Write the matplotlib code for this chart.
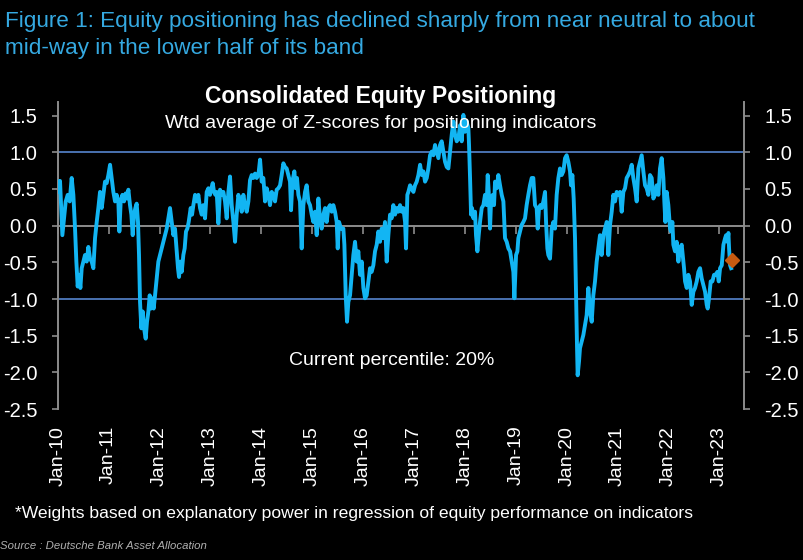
import numpy as np
import matplotlib
matplotlib.use("Agg")
import matplotlib.pyplot as plt
from matplotlib import font_manager

# ---------------- data ----------------
years_since_2010 = [
    0.000, 0.026, 0.045, 0.065, 0.091, 0.124, 0.157, 0.196, 0.235, 0.274,
    0.307, 0.340, 0.366, 0.392, 0.418, 0.445, 0.471, 0.504, 0.536, 0.569,
    0.602, 0.635, 0.667, 0.700, 0.733, 0.766, 0.798, 0.831, 0.864, 0.897,
    0.929, 0.962, 0.995, 1.028, 1.060, 1.093, 1.126, 1.159, 1.191, 1.211,
    1.237, 1.270, 1.302, 1.335, 1.361, 1.388, 1.420, 1.447, 1.473, 1.499,
    1.525, 1.551, 1.577, 1.597, 1.617, 1.643, 1.669, 1.696, 1.728, 1.754,
    1.781, 1.807, 1.833, 1.859, 1.885, 1.912, 1.944, 1.977, 2.010, 2.042,
    2.075, 2.108, 2.141, 2.173, 2.206,
    2.239, 2.272, 2.304, 2.337, 2.363, 2.383, 2.409, 2.436, 2.468, 2.494,
    2.520, 2.547, 2.573, 2.612, 2.639, 2.665, 2.698, 2.730, 2.763, 2.796,
    2.829, 2.861, 2.894, 2.927, 2.960, 2.992, 3.019, 3.045, 3.071, 3.097,
    3.123, 3.156, 3.189, 3.222, 3.254, 3.287, 3.320, 3.353, 3.385, 3.418,
    3.451, 3.484, 3.516, 3.549, 3.582, 3.615, 3.647, 3.680, 3.713, 3.746,
    3.778, 3.811, 3.844, 3.877, 3.909, 3.942, 3.975, 4.007, 4.040, 4.073,
    4.106, 4.138, 4.171, 4.204, 4.237, 4.269, 4.302, 4.335, 4.368, 4.400,
    4.433, 4.466,
    4.498, 4.531, 4.564, 4.584, 4.610, 4.649, 4.675, 4.701, 4.728, 4.760,
    4.793, 4.826, 4.859, 4.891, 4.924, 4.957, 4.990, 5.022, 5.055, 5.088,
    5.121, 5.153, 5.186, 5.219, 5.252, 5.284, 5.317, 5.350, 5.383, 5.415,
    5.448, 5.481, 5.501, 5.527, 5.566, 5.612, 5.632, 5.658, 5.684, 5.710,
    5.743, 5.775, 5.808, 5.841, 5.874, 5.906, 5.939, 5.972, 6.005, 6.037,
    6.070, 6.103, 6.136, 6.168, 6.201, 6.234, 6.267, 6.299, 6.332, 6.365,
    6.398, 6.430, 6.463, 6.496, 6.529, 6.561, 6.594, 6.627, 6.660, 6.692,
    6.725,
    6.758, 6.791, 6.824, 6.843, 6.869, 6.889, 6.922, 6.955, 6.988, 7.020,
    7.053, 7.086, 7.119, 7.151, 7.184, 7.217, 7.250, 7.282, 7.315, 7.348,
    7.381, 7.413, 7.446, 7.479, 7.512, 7.544, 7.577, 7.610, 7.643, 7.675,
    7.708, 7.741, 7.774, 7.806, 7.839, 7.872, 7.905, 7.937, 7.970, 8.003,
    8.035, 8.068, 8.081, 8.101, 8.121, 8.140, 8.166, 8.199, 8.218, 8.245,
    8.271, 8.297, 8.330, 8.363, 8.395, 8.428, 8.448, 8.468, 8.494, 8.513,
    8.546, 8.572, 8.592, 8.625, 8.657, 8.690, 8.723, 8.756, 8.788, 8.821,
    8.854, 8.887, 8.919, 8.952, 8.972, 9.005, 9.031,
    9.050, 9.082, 9.115, 9.148, 9.181, 9.213, 9.246, 9.279, 9.312, 9.344,
    9.377, 9.410, 9.430, 9.456, 9.482, 9.508, 9.541, 9.574, 9.594, 9.620,
    9.639, 9.672, 9.705, 9.737, 9.770, 9.803, 9.836, 9.868, 9.901, 9.934,
    9.967, 9.999, 10.032, 10.065, 10.085, 10.111, 10.137, 10.163, 10.183, 10.202,
    10.215, 10.242, 10.261, 10.294, 10.327, 10.360, 10.392, 10.425, 10.458, 10.491,
    10.523, 10.556, 10.589, 10.622, 10.654, 10.687, 10.720, 10.753, 10.785, 10.818,
    10.851, 10.884, 10.916, 10.949, 10.982, 11.015, 11.047, 11.080, 11.113, 11.146,
    11.178, 11.211, 11.244, 11.277,
    11.309, 11.342, 11.375, 11.408, 11.440, 11.473, 11.506, 11.539, 11.571, 11.604,
    11.637, 11.670, 11.702, 11.735, 11.768, 11.801, 11.833, 11.866, 11.899, 11.918,
    11.938, 11.964, 11.997, 12.030, 12.050, 12.076, 12.095, 12.128, 12.161, 12.194,
    12.227, 12.259, 12.279, 12.305, 12.325, 12.358, 12.390, 12.423, 12.456, 12.489,
    12.521, 12.554, 12.587, 12.620, 12.652, 12.685, 12.718, 12.751, 12.770, 12.796,
    12.829, 12.862, 12.895, 12.927, 12.960, 12.987, 13.013, 13.046, 13.079, 13.112,
    13.131, 13.158, 13.177, 13.190, 13.210, 13.230,
]

z_score = [
    0.60, 0.46, 0.61, 0.28, -0.13, 0.10, 0.33, 0.42, 0.33, 0.65,
    0.42, -0.04, -0.49, -0.83, -0.67, -0.85, -0.58, -0.49, -0.40, -0.49,
    -0.29, -0.45, -0.49, -0.58, -0.17, 0.05, 0.24, 0.46, 0.24, 0.42,
    0.60, 0.58, 0.69, 0.83, 0.65, 0.46, 0.33, 0.42, 0.33, -0.08,
    0.33, 0.42, 0.33, 0.44, 0.37, 0.49, 0.28, 0.15, -0.13, 0.15,
    0.24, 0.30, 0.05, -0.40, -1.04, -1.40, -1.17, -1.40, -1.54, -1.31,
    -1.17, -0.95, -1.13, -0.99, -1.13, -0.95, -0.72, -0.49, -0.40, -0.31,
    -0.22, -0.13, -0.04, 0.10, 0.24,
    0.05, -0.13, -0.04, -0.35, -0.58, -0.70, -0.49, -0.63, -0.40, -0.31,
    -0.08, -0.04, 0.05, 0.24, 0.15, 0.28, 0.42, 0.33, 0.42, 0.24,
    0.15, 0.28, 0.10, 0.46, 0.51, 0.42, 0.51, 0.58, 0.46, 0.42,
    0.46, 0.03, 0.49, 0.42, 0.46, 0.33, 0.10, 0.46, 0.67, 0.28,
    0.05, -0.22, 0.15, 0.42, 0.33, 0.19, 0.42, 0.28, 0.19, 0.33,
    0.62, 0.69, 0.65, 0.71, 0.65, 0.69, 0.90, 0.60, 0.65, 0.33,
    0.51, 0.42, 0.28, 0.46, 0.42, 0.33, 0.49, 0.51, 0.55, 0.69,
    0.85, 0.80,
    0.78, 0.69, 0.60, 0.21, 0.60, 0.74, 0.51, 0.65, 0.42, 0.33,
    -0.31, 0.28, 0.46, 0.55, 0.33, 0.28, 0.15, 0.05, 0.19, -0.13,
    0.37, 0.10, -0.04, 0.15, 0.24, 0.05, 0.24, 0.28, 0.19, 0.28,
    0.19, 0.05, -0.31, 0.05, -0.04, -0.04, -0.26, -0.95, -1.31, -1.04,
    -0.95, -0.67, -0.40, -0.22, -0.49, -0.35, -0.67, -0.49, -0.85, -0.99,
    -0.95, -0.76, -0.58, -0.63, -0.54, -0.35, -0.26, -0.08, -0.22, -0.04,
    -0.17, 0.05, -0.49, -0.13, 0.15, 0.10, 0.28, 0.15, 0.24, 0.19,
    0.28,
    0.19, 0.24, 0.05, -0.31, 0.42, 0.46, 0.55, 0.51, 0.46, 0.55,
    0.60, 0.69, 0.83, 0.69, 0.74, 0.60, 0.65, 0.78, 0.96, 1.01,
    0.96, 1.10, 1.01, 0.92, 1.10, 1.15, 1.01, 0.87, 0.80, 0.78,
    1.01, 1.24, 1.42, 1.24, 1.15, 1.19, 1.37, 1.15, 1.51, 1.28,
    1.42, 1.33, 1.10, 0.65, 0.15, 0.24, 0.10, 0.19, -0.13, -0.35,
    -0.13, 0.05, 0.24, 0.28, 0.42, 0.28, 0.69, 0.46, -0.04, 0.33,
    0.42, 0.28, 0.60, 0.51, 0.69, 0.55, 0.42, 0.33, -0.17, -0.22,
    -0.31, -0.35, -0.49, -0.63, -0.99, -0.40, -0.35,
    -0.17, -0.08, 0.01, 0.05, 0.10, 0.28, 0.42, 0.55, 0.65, 0.65,
    0.28, 0.24, -0.04, 0.24, 0.28, 0.24, 0.33, 0.46, 0.05, -0.31,
    -0.40, -0.45, -0.04, 0.05, -0.04, 0.42, 0.65, 0.78, 0.69, 0.74,
    0.92, 0.96, 0.87, 0.74, 0.55, 0.69, 0.37, -0.17, -0.95, -1.63,
    -2.04, -1.85, -1.67, -1.58, -1.49, -1.35, -1.22, -0.85, -1.17, -1.31,
    -0.95, -0.76, -0.49, -0.31, -0.13, -0.40, -0.13, -0.04, 0.05, -0.40,
    0.01, 0.19, 0.42, 0.33, 0.46, 0.42, 0.46, 0.19, 0.46, 0.51,
    0.65, 0.69, 0.74, 0.83,
    0.65, 0.51, 0.33, 0.78, 0.87, 0.96, 0.74, 0.55, 0.51, 0.42,
    0.69, 0.65, 0.37, 0.42, 0.55, 0.42, 0.78, 0.92, 0.65, 0.33,
    0.05, 0.46, 0.28, -0.04, -0.08, 0.05, -0.26, -0.35, -0.22, -0.49,
    -0.31, -0.26, -0.40, -0.58, -0.76, -0.85, -0.67, -0.76, -1.08, -0.90,
    -0.85, -0.76, -0.63, -0.58, -0.72, -0.81, -0.90, -1.08, -1.13, -0.99,
    -0.76, -0.76, -0.67, -0.67, -0.63, -0.76, -0.58, -0.54, -0.26, -0.17,
    -0.13, -0.22, -0.10, -0.31, -0.54, -0.58,
]

latest_years_since_2010 = 13.24
latest_value = -0.47

band_levels = [1.0, -1.0]
y_ticks = [-2.5, -2.0, -1.5, -1.0, -0.5, 0.0, 0.5, 1.0, 1.5]
x_tick_years = list(range(2010, 2024))
x_tick_labels = ["Jan-%02d" % (y % 100) for y in x_tick_years]

heading_lines = ["Figure 1: Equity positioning has declined sharply from near neutral to about",
                 "mid-way in the lower half of its band"]
title = "Consolidated Equity Positioning"
subtitle = "Wtd average of Z-scores for positioning indicators"
note_pct = "Current percentile: 20%"
footnote = "*Weights based on explanatory power in regression of equity performance on indicators"
source = "Source : Deutsche Bank Asset Allocation"

# ---------------- styling ----------------
names = {f.name for f in font_manager.fontManager.ttflist}
base_font = "Liberation Sans" if "Liberation Sans" in names else "DejaVu Sans"
narrow_font = "Liberation Sans Narrow" if "Liberation Sans Narrow" in names else base_font
plt.rcParams["font.family"] = [base_font, "DejaVu Sans"]

LINE_BLUE = "#12B5F3"
BAND_BLUE = "#4A72B0"
GREY = "#8C8C8C"

fig = plt.figure(figsize=(8.04, 5.6), dpi=100, facecolor="black")
ax = fig.add_axes([0.0718, 0.2696, 0.854, 0.5488])
ax.set_facecolor("black")

dates = 2010 + np.array(years_since_2010)
ax.plot(dates, z_score, color=LINE_BLUE, lw=2.8, solid_joinstyle="round", zorder=3)
ax.plot([2010 + latest_years_since_2010], [latest_value], marker="D", ms=7,
        color="#C55A11", mec="#C55A11", ls="none", zorder=4)

for lvl in band_levels:
    ax.axhline(lvl, color=BAND_BLUE, lw=1.4, zorder=1)

ax.set_xlim(2010, 2023.49)
ax.set_ylim(-2.5, 1.69)

for s in ("top", "bottom"):
    ax.spines[s].set_visible(False)
for s in ("left", "right"):
    ax.spines[s].set_color(GREY)
    ax.spines[s].set_linewidth(1.4)

ax.set_yticks(y_ticks)
ax.set_yticklabels(["%.1f" % v for v in y_ticks])
ax.tick_params(axis="y", left=True, right=True, labelleft=True, labelright=True,
               direction="out", length=4.5, width=1.2, color=GREY,
               labelcolor="white", labelsize=14.5, pad=10)

ax.set_xticks(x_tick_years)
ax.set_xticklabels(x_tick_labels, rotation=90)
ax.tick_params(axis="x", length=0, pad=12, labelsize=14, labelcolor="white")

# zero line with tick marks
sec = ax.secondary_xaxis(0, transform=ax.transData)
sec.set_alignment("bottom")
sec.set_xticks(x_tick_years)
sec.tick_params(axis="x", direction="out", length=5.5, width=1.2, color=GREY,
                labelbottom=False, labeltop=False)
sec.spines["bottom"].set_color(GREY)
sec.spines["bottom"].set_linewidth(1.4)

# texts
H = 560.0
def fy(px):
    return 1 - px / H

renderer = fig.canvas.get_renderer()
probe = fig.text(0, 0, heading_lines[0], family=[narrow_font, base_font], fontsize=16)
w = probe.get_window_extent(renderer).width
probe.remove()
head_size = 16 * 749.0 / w
HEAD_BLUE = "#35A9E1"
fig.text(5 / 804, fy(27), heading_lines[0], color=HEAD_BLUE, family=[narrow_font, base_font],
         fontsize=head_size, va="baseline", ha="left")
fig.text(5 / 804, fy(54), heading_lines[1], color=HEAD_BLUE, family=[narrow_font, base_font],
         fontsize=head_size, va="baseline", ha="left")

fig.text(381 / 804, fy(103), title, color="white", fontsize=16.5, fontweight="bold",
         ha="center", va="baseline")
fig.text(381 / 804, fy(128), subtitle, color="white", fontsize=14,
         ha="center", va="baseline")
fig.text(392 / 804, fy(365), note_pct, color="white", fontsize=14,
         ha="center", va="baseline")
fig.text(15 / 804, fy(518), footnote, color="white", fontsize=12.6,
         ha="left", va="baseline")
fig.text(0 / 804, fy(549), source, color="#B0B0B0", fontsize=8.2, style="italic",
         ha="left", va="baseline")

fig.savefig("out.png", dpi=100, facecolor="black")
